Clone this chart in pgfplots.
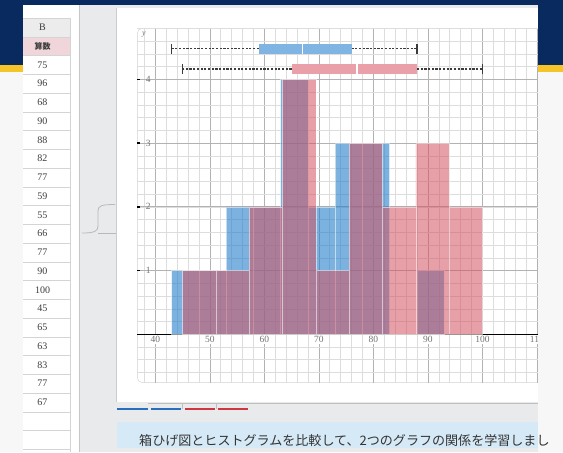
\documentclass[border=0pt]{standalone}
\usepackage{fontspec}
\setmainfont{Liberation Serif}
\newfontfamily\jp{Noto Sans CJK JP}
\usepackage{pgfplots}
\pgfplotsset{compat=1.18}
\usepgfplotslibrary{statistics}

\definecolor{navy}{RGB}{8,42,94}
\definecolor{gold}{RGB}{245,196,40}
\definecolor{pagebg}{RGB}{247,247,247}
\definecolor{appbg}{RGB}{232,234,236}
\definecolor{hdrgray}{RGB}{236,236,236}
\definecolor{pinkcell}{RGB}{240,214,218}
\definecolor{cellline}{RGB}{212,212,212}
\definecolor{txtgray}{RGB}{60,60,60}
\definecolor{labgray}{RGB}{115,115,115}
\definecolor{bluebar}{RGB}{38,127,203}
\definecolor{redbar}{RGB}{213,82,97}
\definecolor{boxblue}{RGB}{128,180,226}
\definecolor{boxred}{RGB}{233,160,168}
\definecolor{dgray}{RGB}{60,60,60}
\definecolor{tabblue}{RGB}{40,110,190}
\definecolor{tabred}{RGB}{205,55,65}
\definecolor{noteblue}{RGB}{214,233,246}

\begin{document}
\begin{tikzpicture}[x=1pt,y=1pt]
% page background and header band
\fill[pagebg] (0,0) rectangle (563,452);
\fill[navy] (0,387) rectangle (563,452);
\fill[gold] (0,380) rectangle (563,387);
% application window
\fill[appbg] (23,0) rectangle (538,447);
% spreadsheet column
\fill[white] (23,0) rectangle (79,447);
\draw[gray!45] (79,0) -- (79,447);
\fill[hdrgray] (23,415) rectangle (70,434);
\fill[pinkcell] (23,396.5) rectangle (70,415);
\draw[cellline] (23,434) -- (70,434);
\draw[cellline] (23,415) -- (70,415);
\foreach \i in {0,...,21} {\draw[cellline] (23,396.5-18.75*\i) -- (70,396.5-18.75*\i);}
\draw[cellline] (70,0) -- (70,434);
\node[text=txtgray, font=\fontsize{10}{10}\selectfont] at (42.5,424.5) {B};
\node[text=txtgray, font=\jp\bfseries\fontsize{8}{8}\selectfont] at (42.5,405.7) {算数};
\foreach \v [count=\i from 0] in {75,96,68,90,88,82,77,59,55,66,77,90,100,45,65,63,83,77,67}
  {\node[text=txtgray, font=\fontsize{10}{10}\selectfont] at (42.5,396.5-18.75*\i-9.4) {\v};}
% splitter handle
\draw[gray!55, line width=0.8pt] (82,219) .. controls (95,219) and (98,221) .. (98,226) -- (98,241) .. controls (98,246) and (101,247.5) .. (115,247.5);
\draw[gray!55, line width=0.8pt] (98,219) -- (118,219);
% graph panel
\fill[white] (117,50) rectangle (538,444);
\draw[gray!40] (116.5,50) -- (116.5,444);
\begin{scope}
  \clip (0,0) rectangle (538,452);
  \draw[gray!35, rounded corners=5pt] (137.3,69.3) rectangle (548,423.7);
\end{scope}

\begin{axis}[
  at={(137.3pt,69.3pt)}, anchor=south west,
  scale only axis, width=400.7pt, height=354.4pt,
  xmin=36.7, xmax=110.2, ymin=-0.76, ymax=4.80,
  axis x line=middle, axis y line*=left,
  x axis line style={-, black, line width=1.5pt},
  y axis line style={draw=none},
  xtick={40,50,...,110}, ytick={1,2,3,4},
  minor xtick={36,38,...,110},
  minor ytick={-0.6,-0.4,...,4.8},
  grid=both,
  major grid style={draw=gray!60, line width=0.6pt},
  minor grid style={draw=gray!27, line width=0.5pt},
  minor tick length=0pt,
  xtick style={draw=none},
  ytick style={black, line width=1.5pt},
  major tick length=3pt,
  tick align=inside,
  /pgf/number format/assume math mode=true,
  xticklabel style={fill=white, inner sep=1.2pt, text=labgray, font=\fontsize{9.5}{9.5}\selectfont, yshift=-1pt},
  yticklabel style={anchor=west, xshift=5pt, text=labgray, font=\fontsize{9.5}{9.5}\selectfont},
]
% histogram of the hidden series (blue)
\addplot[ybar interval, fill=bluebar, fill opacity=0.6, draw=white, draw opacity=0.55, line width=0.5pt]
  coordinates {(43,1) (48,1) (53,2) (58,2) (63,4) (68,2) (73,3) (78,3) (83,0) (88,1) (93,0)};
% histogram of arithmetic scores (red)
\addplot[ybar interval, fill=redbar, fill opacity=0.55, draw=white, draw opacity=0.55, line width=0.5pt]
  coordinates {(45,1) (51.111,1) (57.222,2) (63.333,4) (69.444,1) (75.556,3) (81.667,2) (87.778,3) (93.889,2) (100,0)};
% box plots
\addplot[boxplot prepared={lower whisker=43, lower quartile=59, median=67, upper quartile=76, upper whisker=88,
   draw position=4.476, box extend=0.152, whisker extend=0, draw direction=x},
   boxplot/every box/.style={draw=none, fill=boxblue},
   boxplot/every whisker/.style={draw=dgray, line width=1.1pt, dash pattern=on 2.2pt off 1.5pt},
   boxplot/every median/.style={draw=white, line width=1.6pt}]
  coordinates {};
\addplot[boxplot prepared={lower whisker=45, lower quartile=65, median=77, upper quartile=88, upper whisker=100,
   draw position=4.162, box extend=0.157, whisker extend=0, draw direction=x},
   boxplot/every box/.style={draw=none, fill=boxred},
   boxplot/every whisker/.style={draw=dgray, line width=1.1pt, dash pattern=on 2.2pt off 1.5pt},
   boxplot/every median/.style={draw=white, line width=1.6pt}]
  coordinates {};
% whisker caps
\addplot[dgray, line width=1.1pt] coordinates {(43,4.40) (43,4.555)};
\addplot[dgray, line width=1.1pt] coordinates {(88,4.40) (88,4.555)};
\addplot[dgray, line width=1.1pt] coordinates {(45,4.085) (45,4.24)};
\addplot[dgray, line width=1.1pt] coordinates {(100,4.085) (100,4.24)};
\end{axis}
\node[text=labgray, font=\itshape\fontsize{8}{8}\selectfont] at (144,417) {y};
% cover the part of the panel that is cut off
\fill[pagebg] (538.2,50) rectangle (563,120);
% tab bar
\draw[gray!50, line width=1.2pt] (148,48.5) -- (538,48.5);
\draw[gray!50, line width=0.8pt] (182.5,43) -- (182.5,48.5);
\draw[gray!50, line width=0.8pt] (216.5,43) -- (216.5,48.5);
\draw[tabblue, line width=2pt] (117,43) -- (148,43);
\draw[tabblue, line width=2pt] (151,43) -- (181,43);
\draw[tabred, line width=2pt] (185,43) -- (215,43);
\draw[tabred, line width=2pt] (218,43) -- (248,43);
% note box
\fill[noteblue] (117,4) rectangle (538,30);
\node[anchor=west, inner sep=0pt, text=black!80, font=\jp\fontsize{13.05}{13.05}\selectfont] at (139,11.5)
  {箱ひげ図とヒストグラムを比較して、2つのグラフの関係を学習しまし};
\end{tikzpicture}
\end{document}
